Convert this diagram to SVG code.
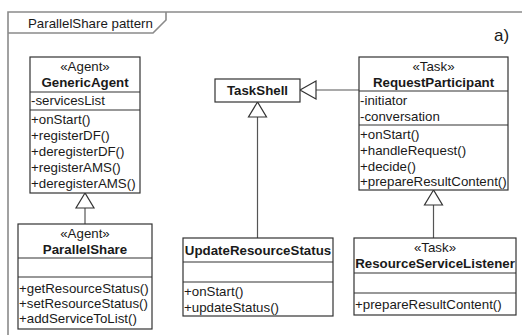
<svg xmlns="http://www.w3.org/2000/svg" width="522" height="335" viewBox="0 0 522 335">
<style>
text{font-family:"Liberation Sans",Arial,sans-serif;font-size:13.3px;fill:#1a1a1a}
.c{text-anchor:middle}
.b{font-weight:bold}
.box{fill:#fff;stroke:#333;stroke-width:1.2}
.sep{stroke:#333;stroke-width:1.2}
.frame{fill:none;stroke:#8a8a8a;stroke-width:1.6}
.ln{stroke:#555;stroke-width:1.2;fill:none}
.tri{fill:#fff;stroke:#333;stroke-width:1.2}
</style>
<rect width="522" height="335" fill="#fff"/>
<g id="frame">
<path class="frame" d="M8,345 V12 H540"/>
<path class="frame" d="M8,33 H153 L166,20 V12"/>
<text x="28" y="28">ParallelShare pattern</text>
<text x="494" y="41" style="font-size:17px">a)</text>
</g>
<g id="connectors">
<line class="ln" x1="85" y1="208" x2="85" y2="224"/>
<polygon class="tri" points="85,193 76,208 94,208"/>
<line class="ln" x1="316" y1="90" x2="359" y2="90"/>
<polygon class="tri" points="300,90 316,81 316,99"/>
<line class="ln" x1="257.5" y1="117" x2="257.5" y2="238"/>
<polygon class="tri" points="257.5,102 248.5,117 266.5,117"/>
<line class="ln" x1="433.5" y1="205" x2="433.5" y2="238"/>
<polygon class="tri" points="433.5,190 424.5,205 442.5,205"/>
</g>
<g id="GenericAgent">
<rect class="box" x="30" y="57" width="110" height="136"/>
<line class="sep" x1="30" y1="92" x2="140" y2="92"/>
<line class="sep" x1="30" y1="110" x2="140" y2="110"/>
<text class="c" x="85" y="71">«Agent»</text>
<text class="c b" x="85" y="87">GenericAgent</text>
<text x="31" y="105">-servicesList</text>
<text x="31" y="124">+onStart()</text>
<text x="31" y="140">+registerDF()</text>
<text x="31" y="156">+deregisterDF()</text>
<text x="31" y="172">+registerAMS()</text>
<text x="31" y="188">+deregisterAMS()</text>
</g>
<g id="ParallelShare">
<rect class="box" x="18" y="224" width="134" height="105"/>
<line class="sep" x1="18" y1="258" x2="152" y2="258"/>
<line class="sep" x1="18" y1="277" x2="152" y2="277"/>
<text class="c" x="85" y="238">«Agent»</text>
<text class="c b" x="85" y="254">ParallelShare</text>
<text x="19" y="293">+getResourceStatus()</text>
<text x="19" y="308">+setResourceStatus()</text>
<text x="19" y="323">+addServiceToList()</text>
</g>
<g id="TaskShell">
<rect class="box" x="215" y="79" width="85" height="23"/>
<text class="c b" x="257.5" y="95">TaskShell</text>
</g>
<g id="RequestParticipant">
<rect class="box" x="359" y="57" width="149" height="133"/>
<line class="sep" x1="359" y1="91" x2="508" y2="91"/>
<line class="sep" x1="359" y1="125" x2="508" y2="125"/>
<text class="c" x="433.5" y="71">«Task»</text>
<text class="c b" x="433.5" y="87">RequestParticipant</text>
<text x="360" y="105">-initiator</text>
<text x="360" y="121">-conversation</text>
<text x="360" y="139">+onStart()</text>
<text x="360" y="155">+handleRequest()</text>
<text x="360" y="171">+decide()</text>
<text x="360" y="186">+prepareResultContent()</text>
</g>
<g id="UpdateResourceStatus">
<rect class="box" x="183" y="238" width="150" height="78"/>
<line class="sep" x1="183" y1="262" x2="333" y2="262"/>
<line class="sep" x1="183" y1="282" x2="333" y2="282"/>
<text class="c b" x="258" y="255">UpdateResourceStatus</text>
<text x="184" y="296">+onStart()</text>
<text x="184" y="312">+updateStatus()</text>
</g>
<g id="ResourceServiceListener">
<rect class="box" x="354" y="238" width="162" height="77"/>
<line class="sep" x1="354" y1="273" x2="516" y2="273"/>
<line class="sep" x1="354" y1="293" x2="516" y2="293"/>
<text class="c" x="435" y="252">«Task»</text>
<text class="c b" x="435" y="268">ResourceServiceListener</text>
<text x="355" y="309">+prepareResultContent()</text>
</g>
</svg>
